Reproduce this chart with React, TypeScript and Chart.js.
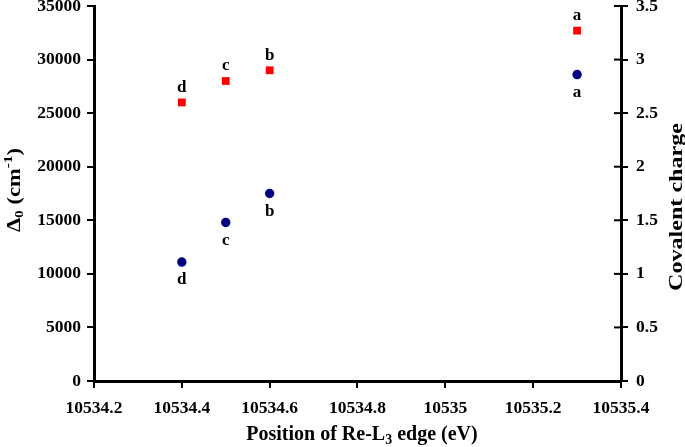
import React, { useEffect, useRef } from "react";
import { Chart, registerables } from "chart.js";

Chart.register(...registerables);

const samples = ["a", "b", "c", "d"];
const edgePositions = [10535.3, 10534.6, 10534.5, 10534.4];
const delta0 = [32700, 29000, 28000, 26000];
const covalentCharge = [2.86, 1.75, 1.48, 1.11];

const xTicks = [10534.2, 10534.4, 10534.6, 10534.8, 10535, 10535.2, 10535.4];

const FONT = "'Liberation Serif', 'Times New Roman', serif";

type Seg = { t: string; k?: "sub" | "sup" };

function drawRich(ctx: CanvasRenderingContext2D, segs: Seg[], size: number, targetLen?: number) {
  const small = Math.round(size * 0.68);
  ctx.textAlign = "left";
  ctx.textBaseline = "middle";
  let total = 0;
  const widths = segs.map((s) => {
    ctx.font = `bold ${s.k ? small : size}px ${FONT}`;
    const w = ctx.measureText(s.t).width;
    total += w;
    return w;
  });
  if (targetLen) ctx.scale(targetLen / total, 1);
  let x = -total / 2;
  segs.forEach((s, i) => {
    ctx.font = `bold ${s.k ? small : size}px ${FONT}`;
    let dy = 0;
    if (s.k === "sub") dy = size * 0.25;
    if (s.k === "sup") dy = -size * 0.35;
    ctx.fillText(s.t, x, dy);
    x += widths[i];
  });
}

const overlayPlugin = {
  id: "overlay",
  afterDraw(chart: any) {
    const ctx: CanvasRenderingContext2D = chart.ctx;
    const area = chart.chartArea;
    ctx.save();
    ctx.fillStyle = "#000";
    // inner ticks on right axis
    const yR = chart.scales.yR;
    ctx.strokeStyle = "#000";
    ctx.lineWidth = 2;
    yR.ticks.forEach((t: any) => {
      const y = yR.getPixelForValue(t.value);
      ctx.beginPath();
      ctx.moveTo(area.right - 7, y);
      ctx.lineTo(area.right, y);
      ctx.stroke();
    });
    // point labels
    ctx.textAlign = "center";
    ctx.textBaseline = "middle";
    ctx.font = `bold 17px ${FONT}`;
    chart.data.datasets.forEach((ds: any, di: number) => {
      const meta = chart.getDatasetMeta(di);
      meta.data.forEach((el: any, i: number) => {
        const off = di === 0 ? -15 : 18;
        ctx.fillText(samples[i], el.x, el.y + off);
      });
    });
    // x title
    ctx.save();
    ctx.translate(362, 435);
    drawRich(ctx, [{ t: "Position of Re-L" }, { t: "3", k: "sub" }, { t: " edge (eV)" }], 20);
    ctx.restore();
    // left title
    ctx.save();
    ctx.translate(15, 190);
    ctx.rotate(-Math.PI / 2);
    drawRich(ctx, [{ t: "Δ" }, { t: "0", k: "sub" }, { t: " (cm" }, { t: "-1", k: "sup" }, { t: ")" }], 19, 84);
    ctx.restore();
    // right title
    ctx.save();
    ctx.translate(677, 207);
    ctx.rotate(-Math.PI / 2);
    drawRich(ctx, [{ t: "Covalent charge" }], 19, 168);
    ctx.restore();
    ctx.restore();
  },
};

export default function App() {
  const ref = useRef<HTMLCanvasElement>(null);
  useEffect(() => {
    if (!ref.current) return;
    const tickFont = { family: FONT, size: 17.5, weight: "bold" as const };
    const axisCommon = {
      border: { display: true, color: "#000", width: 3 },
      grid: { display: true, drawOnChartArea: false, drawTicks: true, tickLength: 7, color: "#000", lineWidth: 2 },
    };
    const zeroPad = (s: any) => {
      s.paddingTop = 0;
      s.paddingBottom = 0;
      s.paddingLeft = 0;
      s.paddingRight = 0;
    };
    const chart = new Chart(ref.current, {
      type: "scatter",
      data: {
        datasets: [
          {
            label: "Δ0",
            data: edgePositions.map((x, i) => ({ x, y: delta0[i] })),
            yAxisID: "y",
            pointStyle: "rect",
            pointRadius: 5.5,
            backgroundColor: "#ff0000",
            borderColor: "#ff0000",
            borderWidth: 0,
          },
          {
            label: "Covalent charge",
            data: edgePositions.map((x, i) => ({ x, y: covalentCharge[i] })),
            yAxisID: "yR",
            pointStyle: "circle",
            pointRadius: 4.7,
            backgroundColor: "#000080",
            borderColor: "#000080",
            borderWidth: 0,
          },
        ],
      },
      options: {
        animation: false,
        responsive: false,
        layout: { padding: { top: 6, left: 0, right: 0, bottom: 0 } },
        plugins: { legend: { display: false }, tooltip: { enabled: false } },
        scales: {
          x: {
            type: "linear",
            min: 10534.2,
            max: 10535.4,
            afterBuildTicks: (s: any) => {
              s.ticks = xTicks.map((v) => ({ value: v }));
            },
            afterFit: (s: any) => {
              s.height = 66;
              zeroPad(s);
            },
            ticks: { color: "#000", font: tickFont, padding: 10, maxRotation: 0, callback: (v: any) => String(v) },
            ...axisCommon,
          },
          y: {
            position: "left",
            min: 0,
            max: 35000,
            afterFit: (s: any) => {
              s.width = 94;
              zeroPad(s);
            },
            ticks: { stepSize: 5000, color: "#000", font: tickFont, padding: 6, callback: (v: any) => String(v) },
            ...axisCommon,
          },
          yR: {
            position: "right",
            min: 0,
            max: 3.5,
            afterFit: (s: any) => {
              s.width = 64;
              zeroPad(s);
            },
            ticks: { stepSize: 0.5, color: "#000", font: tickFont, padding: 8, callback: (v: any) => String(v) },
            ...axisCommon,
          },
        },
      } as any,
      plugins: [overlayPlugin],
    });
    return () => chart.destroy();
  }, []);
  return (
    <div style={{ position: "fixed", left: 0, top: 0, width: 685, height: 447, background: "#fff" }}>
      <canvas ref={ref} width={685} height={447} style={{ display: "block" }} />
    </div>
  );
}
